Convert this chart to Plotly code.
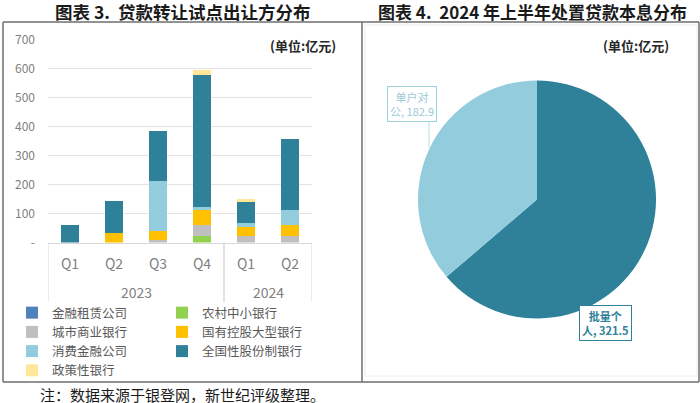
import plotly.graph_objects as go

# ---- data ----
years = ["2023", "2023", "2023", "2023", "2024", "2024"]
quarters = ["Q1", "Q2", "Q3", "Q4", "Q1", "Q2"]

lease = [0, 0, 0, 0, 0, 0]            # 金融租赁公司
rural = [0, 0, 0, 23, 0, 0]           # 农村中小银行
city = [0, 0, 8, 37, 23, 22]          # 城市商业银行
state = [0, 32, 32, 53, 31, 40]       # 国有控股大型银行
consumer = [0, 0, 173, 8, 15, 49]     # 消费金融公司
joint = [62, 111, 173, 457, 71, 245]  # 全国性股份制银行
policy = [0, 0, 0, 18, 10, 0]         # 政策性银行

pie_labels = ["批量个人", "单户对公"]
pie_values = [321.5, 182.9]

TEAL = "#2f8199"
LBLUE = "#93cddd"
GREY_TXT = "#7f7f7f"
CJK = "Noto Sans CJK SC"
W, H = 700, 403


def px(x):
    return x / W


def py(y):
    return (H - y) / H


xkeys = [y + q for y, q in zip(years, quarters)]

# (name, values, colour, legend)
series = [
    ("金融租赁公司", lease, "#4f81bd", "legend"),
    ("农村中小银行", rural, "#92d050", "legend2"),
    ("城市商业银行", city, "#bfbfbf", "legend"),
    ("国有控股大型银行", state, "#ffc000", "legend2"),
    ("消费金融公司", consumer, LBLUE, "legend"),
    ("全国性股份制银行", joint, TEAL, "legend2"),
    ("政策性银行", policy, "#ffe699", "legend"),
]

fig = go.Figure()
for name, vals, col, lg in series:
    fig.add_trace(go.Bar(x=xkeys, y=vals, name=name,
                         marker=dict(color=col, line=dict(width=0)),
                         legend=lg))

fig.add_trace(go.Pie(labels=pie_labels, values=pie_values, sort=False,
                     direction="clockwise", rotation=0,
                     marker=dict(colors=[TEAL, LBLUE], line=dict(width=0)),
                     textinfo="none", showlegend=False, hoverinfo="label+value",
                     domain=dict(x=[px(418), px(656)], y=[py(318.5), py(80.5)])))

leg = dict(orientation="v", traceorder="normal", bgcolor="rgba(0,0,0,0)",
           font=dict(family=CJK, size=12.5, color="#595959"),
           xanchor="left", yanchor="top", itemwidth=30, tracegroupgap=0)

fig.update_layout(
    width=W, height=H,
    margin=dict(l=0, r=0, t=0, b=0, pad=0, autoexpand=False),
    paper_bgcolor="white", plot_bgcolor="white",
    barmode="stack", bargap=0.57,
    font=dict(family=CJK, color=GREY_TXT),
    xaxis=dict(domain=[px(48), px(312)], type="category", automargin=False,
               range=[-0.5, len(xkeys) - 0.5],
               tickvals=xkeys, ticktext=quarters,
               showgrid=False, showline=True, linecolor="#d9d9d9", linewidth=1,
               ticks="", ticklabelstandoff=9,
               tickfont=dict(size=14, color="#7f7f7f")),
    yaxis=dict(domain=[py(242.5), py(39.7)], automargin=False,
               range=[0, 700], tickvals=[0, 100, 200, 300, 400, 500, 600, 700],
               ticktext=["-", "100", "200", "300", "400", "500", "600", "700"],
               showgrid=True, gridcolor="#e3e3e3", gridwidth=1, zeroline=False,
               showline=False, ticks="", ticklabelstandoff=12,
               tickfont=dict(size=12, color="#808080")),
    legend=dict(leg, x=px(12), y=py(298)),
    legend2=dict(leg, x=px(162), y=py(298)),
)

# year groups under the quarters, with dividers between them
groups = []
for i, yr in enumerate(years):
    if groups and groups[-1][0] == yr:
        groups[-1][2] = i
    else:
        groups.append([yr, i, i])
for yr, first, last in groups:
    fig.add_annotation(text=yr, xref="x", yref="paper", x=(first + last) / 2, y=py(292),
                       xanchor="center", yanchor="middle", showarrow=False,
                       font=dict(family=CJK, size=14, color="#7f7f7f"))
    for edge in (first - 0.5, last + 0.5):
        fig.add_shape(type="line", xref="x", yref="paper", x0=edge, x1=edge,
                      y0=py(302), y1=py(242.5), line=dict(color="#d9d9d9", width=1))

# panel frames
line = dict(color="#6e6e6e", width=1.5)
for yp in [22, 382]:
    fig.add_shape(type="line", xref="paper", yref="paper", x0=px(3), x1=px(699),
                  y0=py(yp), y1=py(yp), line=line)
for xp in [3, 362, 699]:
    fig.add_shape(type="line", xref="paper", yref="paper", x0=px(xp), x1=px(xp),
                  y0=py(382), y1=py(22), line=line)
fig.add_shape(type="rect", xref="paper", yref="paper", x0=px(365), x1=px(697),
              y0=py(376), y1=py(25), line=dict(color="#ececec", width=1))

# leader line for 单户对公
fig.add_shape(type="line", xref="paper", yref="paper", x0=px(429), x1=px(429),
              y0=py(148), y1=py(122), line=dict(color="#b9dbe6", width=1))


def note(text, x, y, font, **kw):
    fig.add_annotation(text=text, xref="paper", yref="paper", x=px(x), y=py(y),
                       xanchor=kw.pop("xanchor", "center"), yanchor="middle",
                       showarrow=False, font=font, **kw)


title_font = dict(family=CJK, size=17, color="#1a1a1a")
note("<b>图表 3.  贷款转让试点出让方分布</b>".replace("  ", " \u00a0"), 182, 11,
     dict(title_font, size=17.5))
note("<b>图表 4.  2024 年上半年处置贷款本息分布</b>".replace("  ", " \u00a0"), 532, 11,
     title_font)

unit_font = dict(family=CJK, size=13, color="#262626")
note("<b>(单位:亿元)</b>", 303, 46, unit_font, bgcolor="white", borderpad=3)
note("<b>(单位:亿元)</b>", 636, 46, unit_font)

note("单户对<br>公, 182.9", 412, 103.5,
     dict(family=CJK, size=11, color="#9cc9d8"), align="center",
     bordercolor="#9fd0df", borderwidth=1, borderpad=2, bgcolor="white")
note("<b>批量个<br>人, 321.5</b>", 605, 322.5,
     dict(family=CJK, size=11, color=TEAL), align="center",
     bordercolor=TEAL, borderwidth=1, borderpad=2, bgcolor="white")

note("注：数据来源于银登网，新世纪评级整理。", 38, 394,
     dict(family=CJK, size=15, color="#1a1a1a"), xanchor="left")

# no modebar over the titles; the page keeps the browser's body margin otherwise
fig.write_html("out.html", config={"displayModeBar": False},
               post_script="document.body.style.margin='0';")
